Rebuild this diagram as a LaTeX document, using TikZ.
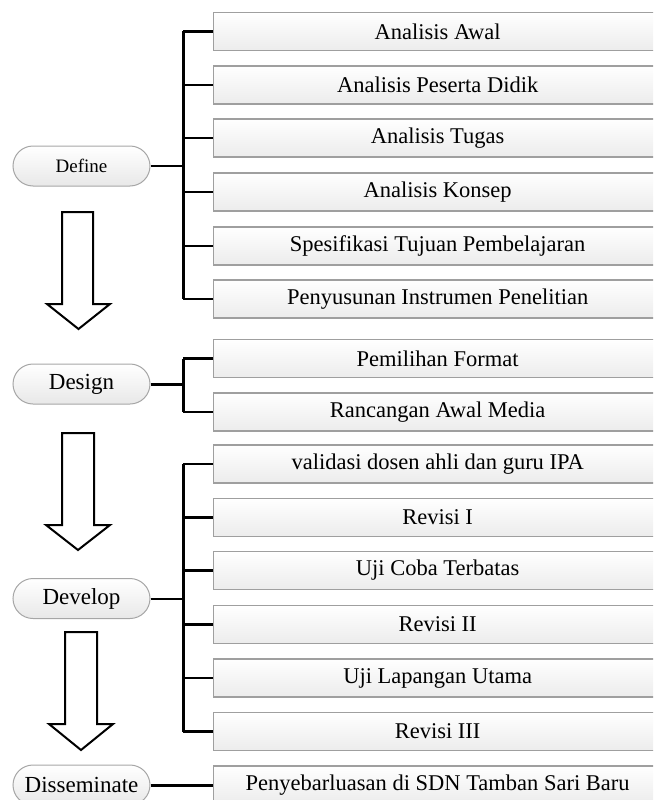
\documentclass[tikz,border=0pt]{standalone}
\usepackage{fontspec}
\setmainfont{Liberation Serif}
\usetikzlibrary{calc}

\tikzset{
	stage/.style={draw=gray!70, line width=1pt, rounded corners=20pt, minimum width=137pt, minimum height=40pt, top color=white, bottom color=gray!18, inner sep=0pt, font=\fontsize{23}{25}\selectfont},
	item/.style={draw=gray!75, line width=1.3pt, minimum width=448pt, minimum height=38pt, top color=white, bottom color=gray!15, inner sep=0pt, anchor=west, font=\fontsize{22.5}{24}\selectfont},
	trunk/.style={line width=3pt},
	branch/.style={line width=2.4pt},
	link/.style={line width=2pt},
	bigarrow/.style={line width=2pt, line join=miter, fill=white}
}

\begin{document}
\begin{tikzpicture}[x=1pt,y=-1pt]
		\useasboundingbox (0,0) rectangle (653,800);
		\clip (0,0) rectangle (653,800);
		%
		\node[stage, font=\fontsize{19}{21}\selectfont] (define) at (81.5,166) {Define};
		\node[stage] (design) at (81.5,384) {Design};
		\node[stage] (develop) at (81.5,598.5) {Develop};
		\node[stage] (disseminate) at (81.5,785) {Disseminate};
		%
		\node[item] (a1) at (213,31.5) {Analisis Awal};
		\node[item] (a2) at (213,85) {Analisis Peserta Didik};
		\node[item] (a3) at (213,138) {Analisis Tugas};
		\node[item] (a4) at (213,192) {Analisis Konsep};
		\node[item] (a5) at (213,246) {Spesifikasi Tujuan Pembelajaran};
		\node[item] (a6) at (213,299) {Penyusunan Instrumen Penelitian};
		%
		\node[item] (b1) at (213,358.5) {Pemilihan Format};
		\node[item] (b2) at (213,412) {Rancangan Awal Media};
		%
		\node[item] (c1) at (213,464) {validasi dosen ahli dan guru IPA};
		\node[item] (c2) at (213,517.5) {Revisi I};
		\node[item] (c3) at (213,570.5) {Uji Coba Terbatas};
		\node[item] (c4) at (213,624.5) {Revisi II};
		\node[item] (c5) at (213,678) {Uji Lapangan Utama};
		\node[item] (c6) at (213,731.5) {Revisi III};
		%
		\node[item] (e1) at (213,785) {Penyebarluasan di SDN Tamban Sari Baru};
		%
		\coordinate (ta) at (183,166);
		\coordinate (tb) at (183,384);
		\coordinate (tc) at (183,598.5);
		\draw[link] (define.east)--(ta);
		\draw[trunk] (ta |- a1.west)--(ta |- a6.west);
		\foreach \i in {1,...,6}
			\draw[branch] (ta |- a\i.west)--(a\i.west);
		\draw[trunk] (design.east)--(tb);
		\draw[trunk] (tb |- b1.west)--(tb |- b2.west);
		\foreach \i in {1,2}
			\draw[branch] (tb |- b\i.west)--(b\i.west);
		\draw[link] (develop.east)--(tc);
		\draw[trunk] (tc |- c1.west)--(tc |- c6.west);
		\foreach \i in {1,...,6}
			\draw[branch] (tc |- c\i.west)--(c\i.west);
		\draw[trunk] (disseminate.east)--(e1.west);
		%
		\draw[bigarrow] (62,212)--(93,212)--(93,304)--(110,304)--(78.5,329)--(47,304)--(62,304)--cycle;
		\draw[bigarrow] (62,433)--(94,433)--(94,525)--(110,525)--(78,550)--(46,525)--(62,525)--cycle;
		\draw[bigarrow] (65,632)--(97,632)--(97,724)--(113,724)--(81,750)--(49,724)--(65,724)--cycle;
	\end{tikzpicture}
\end{document}
